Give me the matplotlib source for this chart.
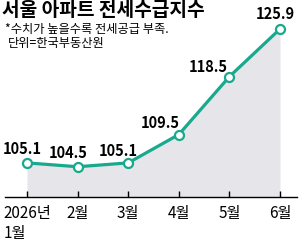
import matplotlib
matplotlib.use("Agg")
import matplotlib.pyplot as plt

# 서울 아파트 전세수급지수 (2026년 1~6월)
months = ["2026년\n1월", "2월", "3월", "4월", "5월", "6월"]
index_values = [105.1, 104.5, 105.1, 109.5, 118.5, 125.9]
value_labels = ["105.1", "104.5", "105.1", "109.5", "118.5", "125.9"]

# label offsets (pixels) relative to each point
label_offsets = [(-5, -14), (-9, -14), (-10, -12), (-19, -12), (-21, -10), (-5, -15)]

TEAL = "#19a98e"
FILL = "#e5e5ea"
KR_FONT = ["Noto Sans CJK KR", "DejaVu Sans"]

fig = plt.figure(figsize=(3.0, 2.45), dpi=100)
ax = fig.add_axes([0, 48 / 245, 1, 197 / 245])
x = list(range(len(months)))

ax.fill_between(x, index_values, 99.8, color=FILL, lw=0, zorder=1)
ax.plot(x, index_values, color=TEAL, lw=2.3, zorder=3,
        marker="o", markersize=6.5, markerfacecolor="white",
        markeredgecolor=TEAL, markeredgewidth=1.6)

for xi, yi, txt, off in zip(x, index_values, value_labels, label_offsets):
    ax.annotate(txt, (xi, yi), xytext=(off[0], -off[1]), textcoords="offset pixels",
                ha="center", va="center", fontsize=10.5, fontweight="bold",
                family=KR_FONT, zorder=4)

ax.set_xlim(-0.534, 5.395)
ax.set_ylim(99.8, 130.4)
for s in ax.spines.values():
    s.set_visible(False)
ax.axhline(99.8, xmin=0.015, xmax=0.99, color="black", lw=1.0, zorder=5, clip_on=False)
ax.set_yticks([])
ax.set_xticks(x)
ax.set_xticklabels(months, family=KR_FONT, fontsize=11, fontweight="medium",
                   multialignment="left")
ax.tick_params(axis="x", direction="in", length=4, width=1, pad=6, color="black")
ax.patch.set_visible(False)

fig.text(2 / 300, 1 - 11 / 245, "서울 아파트 전세수급지수", ha="left", va="center",
         fontsize=13.8, fontweight="bold", family=KR_FONT)
fig.text(5 / 300, 1 - 30 / 245, "*수치가 높을수록 전세공급 부족.", ha="left", va="center",
         fontsize=8.8, fontweight="medium", family=KR_FONT)
fig.text(8 / 300, 1 - 44 / 245, "단위=한국부동산원", ha="left", va="center",
         fontsize=8.8, fontweight="medium", family=KR_FONT)

fig.savefig("out.png", dpi=100)
